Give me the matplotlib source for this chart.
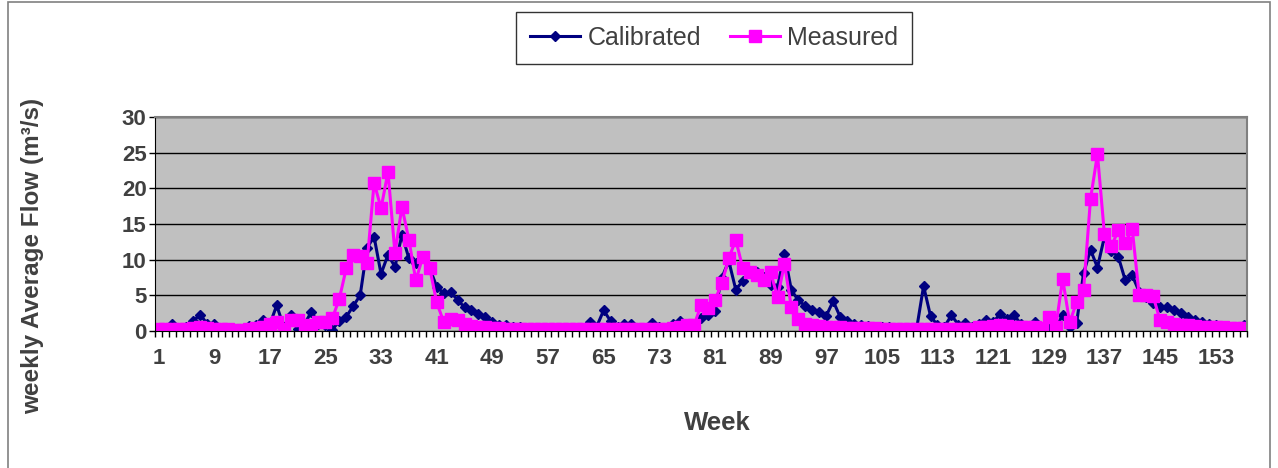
import matplotlib
matplotlib.use("Agg")
import matplotlib.pyplot as plt
from matplotlib.patches import Rectangle
from matplotlib.ticker import MultipleLocator, FixedLocator

plt.rcParams['font.family'] = ['Liberation Sans', 'DejaVu Sans']

# weekly average flow (m3/s), weeks 1..157
calibrated = [0.3, 0.4, 1.0, 0.4, 0.5, 1.4, 2.3, 1.0, 1.0, 0.4,
              0.3, 0.3, 0.3, 0.7, 0.8, 1.5, 0.9, 3.6, 0.6, 2.3,
              0.3, 1.0, 2.7, 1.0, 0.8, 0.2, 1.4, 2.0, 3.5, 5.0,
              11.7, 13.2, 8.0, 10.7, 9.0, 13.5, 10.2, 9.5, 10.2, 8.8,
              6.2, 5.3, 5.4, 4.4, 3.3, 2.9, 2.4, 1.9, 1.3, 0.9,
              0.8, 0.6, 0.5, 0.4, 0.4, 0.3, 0.3, 0.3, 0.3, 0.3,
              0.3, 0.4, 1.2, 0.6, 2.9, 1.4, 0.5, 1.0, 1.0, 0.4,
              0.4, 1.1, 0.5, 0.4, 1.0, 1.4, 0.9, 0.8, 1.8, 2.2,
              2.8, 7.5, 9.8, 5.8, 7.0, 8.3, 8.3, 7.6, 6.5, 6.2,
              10.8, 5.7, 4.3, 3.5, 3.0, 2.6, 2.1, 4.2, 2.0, 1.4,
              1.0, 0.8, 0.7, 0.6, 0.5, 0.5, 0.4, 0.4, 0.3, 0.3,
              6.3, 2.1, 0.8, 0.6, 2.2, 0.9, 1.1, 0.6, 1.0, 1.6,
              1.2, 2.4, 1.7, 2.2, 1.0, 0.7, 1.3, 0.6, 0.4, 0.3,
              2.3, 0.6, 1.1, 8.1, 11.4, 8.9, 13.2, 11.2, 10.4, 7.1,
              7.8, 5.5, 4.8, 3.9, 3.4, 3.4, 2.9, 2.5, 2.0, 1.5,
              1.2, 1.0, 0.8, 0.7, 0.6, 0.5, 0.9]

measured = [0.3, 0.3, 0.3, 0.3, 0.3, 0.4, 0.5, 0.4, 0.3, 0.3,
            0.3, 0.2, 0.2, 0.3, 0.4, 0.6, 1.0, 1.3, 0.3, 1.5,
            1.6, 0.3, 0.8, 1.2, 1.2, 1.8, 4.5, 8.8, 10.7, 10.5,
            9.6, 20.8, 17.2, 22.3, 10.9, 17.4, 12.8, 7.1, 10.4, 8.8,
            4.0, 1.3, 1.7, 1.5, 1.0, 0.7, 0.6, 0.5, 0.4, 0.4,
            0.35, 0.35, 0.3, 0.3, 0.3, 0.3, 0.3, 0.3, 0.3, 0.3,
            0.3, 0.3, 0.3, 0.3, 0.3, 0.3, 0.3, 0.3, 0.3, 0.3,
            0.3, 0.3, 0.3, 0.3, 0.4, 0.5, 0.8, 0.8, 3.6, 3.2,
            4.3, 6.7, 10.2, 12.8, 8.8, 8.3, 7.9, 7.1, 8.3, 4.7,
            9.4, 3.3, 1.7, 1.0, 0.8, 0.7, 0.6, 0.55, 0.5, 0.45,
            0.4, 0.4, 0.4, 0.4, 0.35, 0.35, 0.35, 0.3, 0.3, 0.3,
            0.3, 0.3, 0.3, 0.3, 0.3, 0.3, 0.3, 0.3, 0.5, 0.6,
            0.7, 0.8, 0.7, 0.6, 0.6, 0.5, 0.5, 0.4, 2.0, 0.5,
            7.3, 1.2, 4.0, 5.7, 18.5, 24.8, 13.6, 11.9, 14.1, 12.4,
            14.3, 5.0, 5.0, 4.9, 1.5, 1.2, 1.0, 0.9, 0.8, 0.7,
            0.6, 0.6, 0.5, 0.5, 0.4, 0.4, 0.4]

weeks = list(range(1, len(calibrated) + 1))
week_labels = list(range(1, 154, 8))

txt = '#404040'

fig = plt.figure(figsize=(12.78, 4.68), dpi=100)
ax = fig.add_axes([155/1278, 1 - 331/468, 1092/1278, 214/468])
ax.set_facecolor('#C0C0C0')

ax.plot(weeks, calibrated, color='#000080', marker='D', markersize=5.5, linewidth=2.2, label='Calibrated')
ax.plot(weeks, measured, color='#FF00FF', marker='s', markersize=8, linewidth=2.2, label='Measured')

ax.set_xlim(0.5, len(weeks) + 0.5)
ax.set_ylim(0, 30)

#y axis
ax.yaxis.set_major_locator(MultipleLocator(5))
ax.grid(True, axis='y', color='black', linewidth=1.0)
ax.set_axisbelow(True)
ax.tick_params(axis='y', direction='out', length=4, width=1, pad=2, labelsize=16, labelcolor=txt)

#x axis: labels every 8 weeks, tick marks between weeks
ax.xaxis.set_major_locator(FixedLocator(week_labels))
ax.xaxis.set_minor_locator(FixedLocator([w + 0.5 for w in range(0, len(weeks) + 1)]))
ax.tick_params(axis='x', which='major', length=0, pad=12, labelsize=16, labelcolor=txt)
ax.tick_params(axis='x', which='minor', direction='out', length=4, width=1)
for lab in ax.get_xticklabels() + ax.get_yticklabels():
    lab.set_fontweight('bold')

for s in ['top', 'right']:
    ax.spines[s].set_color('#808080')
    ax.spines[s].set_linewidth(1.5)

ax.set_xlabel('Week', fontsize=18.5, fontweight='bold', color=txt)
ax.xaxis.set_label_coords((717 - 155)/1092, (331 - 411)/214)
ax.set_ylabel('weekly Average Flow (m³/s)', fontsize=17.5, fontweight='bold', color=txt)
ax.yaxis.set_label_coords((44 - 155)/1092, (331 - 256)/214)

leg = fig.legend(loc='center', bbox_to_anchor=(714/1278, 1 - 38/468), ncol=2, frameon=True,
                 fancybox=False, edgecolor='black', fontsize=18, handlelength=2.0,
                 columnspacing=1.15, handletextpad=0.3, borderpad=0.55)
leg.get_frame().set_linewidth(1.0)
for t in leg.get_texts():
    t.set_color(txt)

# outer chart border
fig.patches.append(Rectangle((8/1278, -0.1), 1262/1278, 1.1 - 2/468, transform=fig.transFigure,
                             fill=False, edgecolor='#808080', linewidth=1.2))

plt.savefig('out.png', dpi=100)
